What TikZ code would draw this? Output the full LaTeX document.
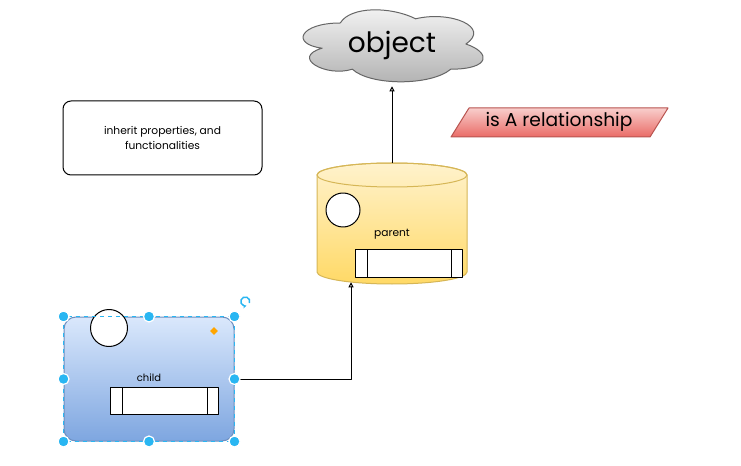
\documentclass[tikz,border=0pt]{standalone}
\usepackage{fontspec}
\setmainfont{Poppins}
\usetikzlibrary{calc,arrows.meta,shapes.geometric}
\newdimen\pxu \pxu=0.75pt
\definecolor{cloudtop}{HTML}{F4F4F4}
\definecolor{cloudbot}{HTML}{B0B0B0}
\definecolor{cloudline}{HTML}{666666}
\definecolor{partop}{HTML}{FFF2CC}
\definecolor{parbot}{HTML}{FFD966}
\definecolor{parline}{HTML}{D6B656}
\definecolor{chtop}{HTML}{DAE8FC}
\definecolor{chbot}{HTML}{7EA6E0}
\definecolor{chline}{HTML}{6C8EBF}
\definecolor{reltop}{HTML}{F8CECC}
\definecolor{relbot}{HTML}{EA6B66}
\definecolor{relline}{HTML}{B85450}
\definecolor{selcyan}{HTML}{29B6F2}
\definecolor{selorange}{HTML}{FFA500}
\tikzset{
  base/.style={line width=0.75pt, line join=round, line cap=round},
  arr/.style={base, draw=black, -{Triangle[open, length=3.75pt, width=3.75pt]}},
  cloudshape/.style={base, draw=cloudline, top color=cloudtop, bottom color=cloudbot},
  cylshape/.style={base, draw=parline, top color=partop, bottom color=parbot},
  childbox/.style={base, draw=chline, top color=chtop, bottom color=chbot, rounded corners=12\pxu, minimum width=170\pxu, minimum height=124\pxu, inner sep=0},
  relshape/.style={base, draw=relline, top color=reltop, bottom color=relbot},
  notebox/.style={base, draw=black, rounded corners=8\pxu, minimum width=199\pxu, minimum height=74\pxu, align=center, font=\fontsize{8}{11}\selectfont},
  ring/.style={base, circle, draw=black, fill=white, inner sep=0},
  proc/.style={base, draw=black, fill=white, inner sep=0, minimum height=27\pxu,
    path picture={
      \draw[base] ($(path picture bounding box.north west)+(12,0)$) -- ($(path picture bounding box.south west)+(12,0)$);
      \draw[base] ($(path picture bounding box.north east)+(-11,0)$) -- ($(path picture bounding box.south east)+(-11,0)$);
    }},
  lbl/.style={font=\fontsize{7.5}{9}\selectfont, inner sep=0},
  selbox/.style={draw=selcyan, dashed, line width=0.75pt},
  handle/.style={fill=selcyan, draw=white, line width=0.9pt},
}
\begin{document}
\begin{tikzpicture}[x=0.75pt, y=-0.75pt]
\useasboundingbox (0,0) rectangle (741,466);
\fill[white] (0,0) rectangle (741,466);

% cloud
\begin{scope}[shift={(290,2)}, xscale=201, yscale=84]
\draw[cloudshape] (0.25,0.25) .. controls (0.05,0.25) and (0,0.5) .. (0.16,0.55)
  .. controls (0,0.66) and (0.18,0.9) .. (0.31,0.8)
  .. controls (0.4,1) and (0.7,1) .. (0.8,0.8)
  .. controls (1,0.8) and (1,0.6) .. (0.875,0.5)
  .. controls (1,0.3) and (0.8,0.1) .. (0.625,0.2)
  .. controls (0.5,0.05) and (0.3,0.05) .. (0.25,0.25) -- cycle;
\end{scope}
\node[font=\fontsize{21}{25}\selectfont, minimum width=180\pxu, minimum height=82\pxu, inner sep=0] (obj) at (392,45) {object};

% parent cylinder
\node[minimum width=150\pxu, minimum height=121\pxu, inner sep=0] (parent) at (392,223.5) {};
\path[cylshape] (317,175) -- (317,272) arc[start angle=180, end angle=0, x radius=75, y radius=12]
  -- (467,175) arc[start angle=0, end angle=-180, x radius=75, y radius=12] -- cycle;
\draw[base, draw=parline] (392,175) ellipse [x radius=75, y radius=12];
\node[ring, minimum size=34\pxu] (pcirc) at (343,210) {};
\node[lbl, font=\fontsize{8}{10}\selectfont] (plbl) at (392,234) {parent};
\node[proc, minimum width=107\pxu] (pproc) at (408.5,263.5) {};

% note
\node[notebox] (note) at (162.5,138) {inherit properties, and\\functionalities};

% relationship
\path[relshape] (469,108) -- (668,108) -- (650,137) -- (451,137) -- cycle;
\node[font=\fontsize{14}{17}\selectfont, inner sep=0] (rel) at (559,122) {is A relationship};

% child
\node[childbox] (child) at (149,379) {};
\node[ring, minimum size=37\pxu] (ccirc) at (109,328) {};
\node[lbl] (clbl) at (149,378) {child};
\node[proc, minimum width=108\pxu] (cproc) at (164,400.5) {};

% connectors
\draw[arr] (parent.north) -- (obj.south);
\draw[arr] (child.east) -| ($(parent.south)+(-41,-2)$);

% selection overlay
\draw[selbox] (child.north west) rectangle (child.south east);
\foreach \a in {north west, north, north east, east, south east, south, south west, west}
  \filldraw[handle] (child.\a) circle[radius=5.5\pxu];
\node[diamond, fill=selorange, minimum size=8\pxu, inner sep=0] (hdl) at (214,331) {};
\coordinate (rot) at (245,304);
\draw[draw=selcyan, line width=1.1pt, -{Stealth[length=2.25pt, width=3pt]}] ([shift={(4.5,-1)}]rot) arc[start angle=20, end angle=-280, radius=4.5];
\end{tikzpicture}
\end{document}
